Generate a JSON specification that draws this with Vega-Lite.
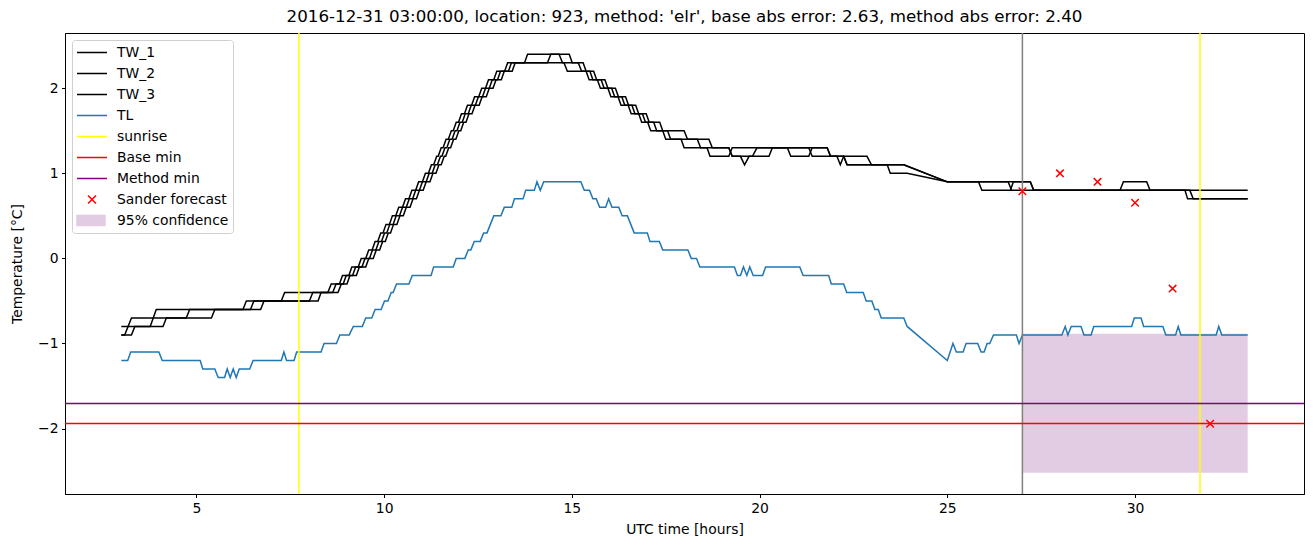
{
  "$schema": "https://vega.github.io/schema/vega-lite/v6.json",
  "width": 1239,
  "height": 461,
  "autosize": {"type": "none"},
  "padding": {"left": 65, "top": 33, "right": 9, "bottom": 53},
  "background": "white",
  "title": {"text": "2016-12-31 03:00:00, location: 923, method: 'elr', base abs error: 2.63, method abs error: 2.40", "fontSize": 16.7, "fontWeight": "normal", "font": "DejaVu Sans", "color": "black", "offset": 7, "anchor": "middle"},
  "config": {
    "view": {"stroke": "black", "strokeWidth": 1},
    "font": "DejaVu Sans",
    "axis": {"grid": false, "tickSize": 3.5, "labelPadding": 3.5, "tickColor": "black", "domainColor": "black", "labelColor": "black", "titleColor": "black", "labelFontSize": 13.9, "titleFontSize": 13.9, "titleFontWeight": "normal", "labelFont": "DejaVu Sans", "titleFont": "DejaVu Sans", "tickWidth": 1, "domainWidth": 1},
    "axisX": {"titlePadding": 8},
    "axisY": {"titlePadding": 13}
  },
  "datasets": {
    "lines": [
      {"series":"TW_1","t":3.0,"v":-0.9},{"series":"TW_1","t":3.09,"v":-0.9},{"series":"TW_1","t":3.18,"v":-0.8},{"series":"TW_1","t":3.77,"v":-0.8},{"series":"TW_1","t":3.85,"v":-0.7},{"series":"TW_1","t":4.73,"v":-0.7},{"series":"TW_1","t":4.82,"v":-0.6},{"series":"TW_1","t":6.24,"v":-0.6},{"series":"TW_1","t":6.33,"v":-0.5},{"series":"TW_1","t":7.26,"v":-0.5},{"series":"TW_1","t":7.35,"v":-0.4},{"series":"TW_1","t":8.50,"v":-0.4},{"series":"TW_1","t":8.59,"v":-0.3},
      {"series":"TW_1","t":8.81,"v":-0.3},{"series":"TW_1","t":8.89,"v":-0.2},{"series":"TW_1","t":9.06,"v":-0.2},{"series":"TW_1","t":9.14,"v":-0.1},{"series":"TW_1","t":9.31,"v":-0.1},{"series":"TW_1","t":9.39,"v":0.0},{"series":"TW_1","t":9.51,"v":0.0},{"series":"TW_1","t":9.59,"v":0.1},{"series":"TW_1","t":9.68,"v":0.1},{"series":"TW_1","t":9.76,"v":0.2},{"series":"TW_1","t":9.83,"v":0.2},{"series":"TW_1","t":9.91,"v":0.3},{"series":"TW_1","t":9.97,"v":0.3},{"series":"TW_1","t":10.05,"v":0.4},{"series":"TW_1","t":10.14,"v":0.4},{"series":"TW_1","t":10.22,"v":0.5},{"series":"TW_1","t":10.31,"v":0.5},{"series":"TW_1","t":10.39,"v":0.6},{"series":"TW_1","t":10.49,"v":0.6},{"series":"TW_1","t":10.57,"v":0.7},{"series":"TW_1","t":10.66,"v":0.7},{"series":"TW_1","t":10.74,"v":0.8},{"series":"TW_1","t":10.84,"v":0.8},{"series":"TW_1","t":10.92,"v":0.9},{"series":"TW_1","t":11.02,"v":0.9},{"series":"TW_1","t":11.10,"v":1.0},{"series":"TW_1","t":11.18,"v":1.0},{"series":"TW_1","t":11.26,"v":1.1},{"series":"TW_1","t":11.32,"v":1.1},{"series":"TW_1","t":11.40,"v":1.2},{"series":"TW_1","t":11.44,"v":1.2},{"series":"TW_1","t":11.52,"v":1.3},{"series":"TW_1","t":11.57,"v":1.3},{"series":"TW_1","t":11.65,"v":1.4},{"series":"TW_1","t":11.71,"v":1.4},{"series":"TW_1","t":11.79,"v":1.5},{"series":"TW_1","t":11.84,"v":1.5},{"series":"TW_1","t":11.92,"v":1.6},{"series":"TW_1","t":11.98,"v":1.6},{"series":"TW_1","t":12.06,"v":1.7},{"series":"TW_1","t":12.14,"v":1.7},{"series":"TW_1","t":12.22,"v":1.8},{"series":"TW_1","t":12.33,"v":1.8},{"series":"TW_1","t":12.41,"v":1.9},{"series":"TW_1","t":12.52,"v":1.9},{"series":"TW_1","t":12.60,"v":2.0},{"series":"TW_1","t":12.70,"v":2.0},{"series":"TW_1","t":12.78,"v":2.1},{"series":"TW_1","t":12.92,"v":2.1},{"series":"TW_1","t":13.00,"v":2.2},{"series":"TW_1","t":13.21,"v":2.2},{"series":"TW_1","t":13.29,"v":2.3},{"series":"TW_1","t":13.74,"v":2.3},{"series":"TW_1","t":13.82,"v":2.4},{"series":"TW_1","t":14.93,"v":2.4},{"series":"TW_1","t":15.01,"v":2.3},{"series":"TW_1","t":15.17,"v":2.3},{"series":"TW_1","t":15.26,"v":2.2},{"series":"TW_1","t":15.38,"v":2.2},{"series":"TW_1","t":15.46,"v":2.1},{"series":"TW_1","t":15.68,"v":2.1},{"series":"TW_1","t":15.76,"v":2.0},{"series":"TW_1","t":15.96,"v":2.0},{"series":"TW_1","t":16.04,"v":1.9},{"series":"TW_1","t":16.23,"v":1.9},{"series":"TW_1","t":16.31,"v":1.8},{"series":"TW_1","t":16.50,"v":1.8},{"series":"TW_1","t":16.58,"v":1.7},{"series":"TW_1","t":16.78,"v":1.7},{"series":"TW_1","t":16.86,"v":1.6},{"series":"TW_1","t":17.02,"v":1.6},{"series":"TW_1","t":17.10,"v":1.5},{"series":"TW_1","t":17.42,"v":1.5},{"series":"TW_1","t":17.50,"v":1.4},{"series":"TW_1","t":17.91,"v":1.4},{"series":"TW_1","t":17.99,"v":1.3},{"series":"TW_1","t":18.60,"v":1.3},{"series":"TW_1","t":18.68,"v":1.2},{"series":"TW_1","t":19.18,"v":1.2},{"series":"TW_1","t":19.27,"v":1.3},{"series":"TW_1","t":20.74,"v":1.3},{"series":"TW_1","t":20.83,"v":1.2},{"series":"TW_1","t":21.31,"v":1.2},{"series":"TW_1","t":21.40,"v":1.3},{"series":"TW_1","t":21.80,"v":1.3},{"series":"TW_1","t":21.89,"v":1.2},{"series":"TW_1","t":22.24,"v":1.2},{"series":"TW_1","t":22.33,"v":1.1},{"series":"TW_1","t":23.84,"v":1.1},{"series":"TW_1","t":25.0,"v":0.9},{"series":"TW_1","t":25.83,"v":0.9},{"series":"TW_1","t":25.92,"v":0.8},{"series":"TW_1","t":26.68,"v":0.8},{"series":"TW_1","t":26.76,"v":0.9},{"series":"TW_1","t":27.21,"v":0.9},{"series":"TW_1","t":27.30,"v":0.8},{"series":"TW_1","t":31.33,"v":0.8},{"series":"TW_1","t":31.40,"v":0.7},{"series":"TW_1","t":33.0,"v":0.7},
      {"series":"TW_2","t":3.0,"v":-0.8},{"series":"TW_2","t":3.18,"v":-0.8},{"series":"TW_2","t":3.27,"v":-0.7},{"series":"TW_2","t":3.85,"v":-0.7},{"series":"TW_2","t":3.93,"v":-0.6},{"series":"TW_2","t":6.44,"v":-0.6},{"series":"TW_2","t":6.53,"v":-0.5},{"series":"TW_2","t":8.01,"v":-0.5},{"series":"TW_2","t":8.10,"v":-0.4},{"series":"TW_2","t":8.63,"v":-0.4},{"series":"TW_2","t":8.72,"v":-0.3},
      {"series":"TW_2","t":8.91,"v":-0.3},{"series":"TW_2","t":8.99,"v":-0.2},{"series":"TW_2","t":9.16,"v":-0.2},{"series":"TW_2","t":9.24,"v":-0.1},{"series":"TW_2","t":9.41,"v":-0.1},{"series":"TW_2","t":9.49,"v":0.0},{"series":"TW_2","t":9.61,"v":0.0},{"series":"TW_2","t":9.69,"v":0.1},{"series":"TW_2","t":9.78,"v":0.1},{"series":"TW_2","t":9.86,"v":0.2},{"series":"TW_2","t":9.93,"v":0.2},{"series":"TW_2","t":10.01,"v":0.3},{"series":"TW_2","t":10.07,"v":0.3},{"series":"TW_2","t":10.15,"v":0.4},{"series":"TW_2","t":10.24,"v":0.4},{"series":"TW_2","t":10.32,"v":0.5},{"series":"TW_2","t":10.41,"v":0.5},{"series":"TW_2","t":10.49,"v":0.6},{"series":"TW_2","t":10.59,"v":0.6},{"series":"TW_2","t":10.67,"v":0.7},{"series":"TW_2","t":10.76,"v":0.7},{"series":"TW_2","t":10.84,"v":0.8},{"series":"TW_2","t":10.94,"v":0.8},{"series":"TW_2","t":11.02,"v":0.9},{"series":"TW_2","t":11.12,"v":0.9},{"series":"TW_2","t":11.20,"v":1.0},{"series":"TW_2","t":11.28,"v":1.0},{"series":"TW_2","t":11.36,"v":1.1},{"series":"TW_2","t":11.42,"v":1.1},{"series":"TW_2","t":11.50,"v":1.2},{"series":"TW_2","t":11.54,"v":1.2},{"series":"TW_2","t":11.62,"v":1.3},{"series":"TW_2","t":11.67,"v":1.3},{"series":"TW_2","t":11.75,"v":1.4},{"series":"TW_2","t":11.81,"v":1.4},{"series":"TW_2","t":11.89,"v":1.5},{"series":"TW_2","t":11.94,"v":1.5},{"series":"TW_2","t":12.02,"v":1.6},{"series":"TW_2","t":12.08,"v":1.6},{"series":"TW_2","t":12.16,"v":1.7},{"series":"TW_2","t":12.24,"v":1.7},{"series":"TW_2","t":12.32,"v":1.8},{"series":"TW_2","t":12.43,"v":1.8},{"series":"TW_2","t":12.51,"v":1.9},{"series":"TW_2","t":12.62,"v":1.9},{"series":"TW_2","t":12.70,"v":2.0},{"series":"TW_2","t":12.80,"v":2.0},{"series":"TW_2","t":12.88,"v":2.1},{"series":"TW_2","t":13.02,"v":2.1},{"series":"TW_2","t":13.10,"v":2.2},{"series":"TW_2","t":13.31,"v":2.2},{"series":"TW_2","t":13.39,"v":2.3},{"series":"TW_2","t":14.35,"v":2.3},{"series":"TW_2","t":14.44,"v":2.4},{"series":"TW_2","t":14.66,"v":2.4},{"series":"TW_2","t":14.75,"v":2.3},{"series":"TW_2","t":15.30,"v":2.3},{"series":"TW_2","t":15.38,"v":2.2},{"series":"TW_2","t":15.58,"v":2.2},{"series":"TW_2","t":15.66,"v":2.1},{"series":"TW_2","t":15.88,"v":2.1},{"series":"TW_2","t":15.96,"v":2.0},{"series":"TW_2","t":16.16,"v":2.0},{"series":"TW_2","t":16.24,"v":1.9},{"series":"TW_2","t":16.43,"v":1.9},{"series":"TW_2","t":16.51,"v":1.8},{"series":"TW_2","t":16.70,"v":1.8},{"series":"TW_2","t":16.78,"v":1.7},{"series":"TW_2","t":16.98,"v":1.7},{"series":"TW_2","t":17.06,"v":1.6},{"series":"TW_2","t":17.34,"v":1.6},{"series":"TW_2","t":17.42,"v":1.5},{"series":"TW_2","t":17.99,"v":1.5},{"series":"TW_2","t":18.08,"v":1.4},{"series":"TW_2","t":18.65,"v":1.4},{"series":"TW_2","t":18.74,"v":1.3},{"series":"TW_2","t":19.18,"v":1.3},{"series":"TW_2","t":19.27,"v":1.2},{"series":"TW_2","t":19.49,"v":1.2},{"series":"TW_2","t":19.60,"v":1.1},{"series":"TW_2","t":19.72,"v":1.2},{"series":"TW_2","t":20.25,"v":1.2},{"series":"TW_2","t":20.34,"v":1.3},{"series":"TW_2","t":21.80,"v":1.3},{"series":"TW_2","t":21.89,"v":1.2},{"series":"TW_2","t":22.06,"v":1.2},{"series":"TW_2","t":22.15,"v":1.1},{"series":"TW_2","t":22.24,"v":1.2},{"series":"TW_2","t":22.86,"v":1.2},{"series":"TW_2","t":22.98,"v":1.1},{"series":"TW_2","t":23.84,"v":1.1},{"series":"TW_2","t":25.0,"v":0.9},{"series":"TW_2","t":26.62,"v":0.9},{"series":"TW_2","t":26.71,"v":0.8},{"series":"TW_2","t":31.46,"v":0.8},{"series":"TW_2","t":31.55,"v":0.7},{"series":"TW_2","t":33.0,"v":0.7},
      {"series":"TW_3","t":3.0,"v":-0.9},{"series":"TW_3","t":3.27,"v":-0.9},{"series":"TW_3","t":3.36,"v":-0.8},{"series":"TW_3","t":4.11,"v":-0.8},{"series":"TW_3","t":4.20,"v":-0.7},{"series":"TW_3","t":5.40,"v":-0.7},{"series":"TW_3","t":5.49,"v":-0.6},{"series":"TW_3","t":6.71,"v":-0.6},{"series":"TW_3","t":6.80,"v":-0.5},{"series":"TW_3","t":8.24,"v":-0.5},{"series":"TW_3","t":8.32,"v":-0.4},{"series":"TW_3","t":8.77,"v":-0.4},{"series":"TW_3","t":8.86,"v":-0.3},
      {"series":"TW_3","t":9.01,"v":-0.3},{"series":"TW_3","t":9.09,"v":-0.2},{"series":"TW_3","t":9.26,"v":-0.2},{"series":"TW_3","t":9.34,"v":-0.1},{"series":"TW_3","t":9.51,"v":-0.1},{"series":"TW_3","t":9.59,"v":0.0},{"series":"TW_3","t":9.71,"v":0.0},{"series":"TW_3","t":9.79,"v":0.1},{"series":"TW_3","t":9.88,"v":0.1},{"series":"TW_3","t":9.96,"v":0.2},{"series":"TW_3","t":10.03,"v":0.2},{"series":"TW_3","t":10.11,"v":0.3},{"series":"TW_3","t":10.17,"v":0.3},{"series":"TW_3","t":10.25,"v":0.4},{"series":"TW_3","t":10.34,"v":0.4},{"series":"TW_3","t":10.42,"v":0.5},{"series":"TW_3","t":10.51,"v":0.5},{"series":"TW_3","t":10.59,"v":0.6},{"series":"TW_3","t":10.69,"v":0.6},{"series":"TW_3","t":10.77,"v":0.7},{"series":"TW_3","t":10.86,"v":0.7},{"series":"TW_3","t":10.94,"v":0.8},{"series":"TW_3","t":11.04,"v":0.8},{"series":"TW_3","t":11.12,"v":0.9},{"series":"TW_3","t":11.22,"v":0.9},{"series":"TW_3","t":11.30,"v":1.0},{"series":"TW_3","t":11.38,"v":1.0},{"series":"TW_3","t":11.46,"v":1.1},{"series":"TW_3","t":11.52,"v":1.1},{"series":"TW_3","t":11.60,"v":1.2},{"series":"TW_3","t":11.64,"v":1.2},{"series":"TW_3","t":11.72,"v":1.3},{"series":"TW_3","t":11.77,"v":1.3},{"series":"TW_3","t":11.85,"v":1.4},{"series":"TW_3","t":11.91,"v":1.4},{"series":"TW_3","t":11.99,"v":1.5},{"series":"TW_3","t":12.04,"v":1.5},{"series":"TW_3","t":12.12,"v":1.6},{"series":"TW_3","t":12.18,"v":1.6},{"series":"TW_3","t":12.26,"v":1.7},{"series":"TW_3","t":12.34,"v":1.7},{"series":"TW_3","t":12.42,"v":1.8},{"series":"TW_3","t":12.53,"v":1.8},{"series":"TW_3","t":12.61,"v":1.9},{"series":"TW_3","t":12.72,"v":1.9},{"series":"TW_3","t":12.80,"v":2.0},{"series":"TW_3","t":12.90,"v":2.0},{"series":"TW_3","t":12.98,"v":2.1},{"series":"TW_3","t":13.12,"v":2.1},{"series":"TW_3","t":13.20,"v":2.2},{"series":"TW_3","t":13.41,"v":2.2},{"series":"TW_3","t":13.49,"v":2.3},{"series":"TW_3","t":14.79,"v":2.3},{"series":"TW_3","t":14.88,"v":2.2},{"series":"TW_3","t":15.48,"v":2.2},{"series":"TW_3","t":15.56,"v":2.1},{"series":"TW_3","t":15.78,"v":2.1},{"series":"TW_3","t":15.86,"v":2.0},{"series":"TW_3","t":16.06,"v":2.0},{"series":"TW_3","t":16.14,"v":1.9},{"series":"TW_3","t":16.33,"v":1.9},{"series":"TW_3","t":16.41,"v":1.8},{"series":"TW_3","t":16.60,"v":1.8},{"series":"TW_3","t":16.68,"v":1.7},{"series":"TW_3","t":16.88,"v":1.7},{"series":"TW_3","t":16.96,"v":1.6},{"series":"TW_3","t":17.18,"v":1.6},{"series":"TW_3","t":17.26,"v":1.5},{"series":"TW_3","t":17.55,"v":1.5},{"series":"TW_3","t":17.63,"v":1.4},{"series":"TW_3","t":18.34,"v":1.4},{"series":"TW_3","t":18.43,"v":1.3},{"series":"TW_3","t":19.18,"v":1.3},{"series":"TW_3","t":19.27,"v":1.2},{"series":"TW_3","t":19.81,"v":1.2},{"series":"TW_3","t":19.93,"v":1.3},{"series":"TW_3","t":21.31,"v":1.3},{"series":"TW_3","t":21.40,"v":1.2},{"series":"TW_3","t":22.24,"v":1.2},{"series":"TW_3","t":22.33,"v":1.1},{"series":"TW_3","t":23.40,"v":1.1},{"series":"TW_3","t":23.48,"v":1.0},{"series":"TW_3","t":23.93,"v":1.0},{"series":"TW_3","t":25.0,"v":0.9},{"series":"TW_3","t":27.21,"v":0.9},{"series":"TW_3","t":27.30,"v":0.8},{"series":"TW_3","t":29.60,"v":0.8},{"series":"TW_3","t":29.69,"v":0.9},{"series":"TW_3","t":30.31,"v":0.9},{"series":"TW_3","t":30.40,"v":0.8},{"series":"TW_3","t":33.0,"v":0.8},
      {"series":"TL","t":3.0,"v":-1.2},{"series":"TL","t":3.17,"v":-1.2},{"series":"TL","t":3.25,"v":-1.1},{"series":"TL","t":4.0,"v":-1.1},{"series":"TL","t":4.09,"v":-1.2},{"series":"TL","t":5.10,"v":-1.2},{"series":"TL","t":5.17,"v":-1.3},{"series":"TL","t":5.49,"v":-1.3},{"series":"TL","t":5.58,"v":-1.4},{"series":"TL","t":5.75,"v":-1.4},{"series":"TL","t":5.82,"v":-1.3},{"series":"TL","t":5.90,"v":-1.4},{"series":"TL","t":5.98,"v":-1.3},{"series":"TL","t":6.06,"v":-1.4},{"series":"TL","t":6.14,"v":-1.3},{"series":"TL","t":6.42,"v":-1.3},{"series":"TL","t":6.51,"v":-1.2},{"series":"TL","t":7.26,"v":-1.2},{"series":"TL","t":7.33,"v":-1.1},{"series":"TL","t":7.40,"v":-1.2},{"series":"TL","t":7.60,"v":-1.2},{"series":"TL","t":7.67,"v":-1.1},{"series":"TL","t":8.32,"v":-1.1},{"series":"TL","t":8.40,"v":-1.0},{"series":"TL","t":8.73,"v":-1.0},{"series":"TL","t":8.82,"v":-0.9},{"series":"TL","t":9.07,"v":-0.9},{"series":"TL","t":9.18,"v":-0.8},{"series":"TL","t":9.42,"v":-0.8},{"series":"TL","t":9.51,"v":-0.7},{"series":"TL","t":9.67,"v":-0.7},{"series":"TL","t":9.76,"v":-0.6},{"series":"TL","t":9.92,"v":-0.6},{"series":"TL","t":10.01,"v":-0.5},{"series":"TL","t":10.10,"v":-0.5},{"series":"TL","t":10.19,"v":-0.4},{"series":"TL","t":10.24,"v":-0.4},{"series":"TL","t":10.33,"v":-0.3},{"series":"TL","t":10.66,"v":-0.3},{"series":"TL","t":10.75,"v":-0.2},{"series":"TL","t":11.25,"v":-0.2},{"series":"TL","t":11.32,"v":-0.1},{"series":"TL","t":11.84,"v":-0.1},{"series":"TL","t":11.92,"v":0.0},{"series":"TL","t":12.15,"v":0.0},{"series":"TL","t":12.24,"v":0.1},{"series":"TL","t":12.31,"v":0.1},{"series":"TL","t":12.40,"v":0.2},{"series":"TL","t":12.56,"v":0.2},{"series":"TL","t":12.65,"v":0.3},{"series":"TL","t":12.74,"v":0.3},{"series":"TL","t":12.83,"v":0.4},{"series":"TL","t":12.92,"v":0.5},{"series":"TL","t":13.11,"v":0.5},{"series":"TL","t":13.20,"v":0.6},{"series":"TL","t":13.40,"v":0.6},{"series":"TL","t":13.47,"v":0.7},{"series":"TL","t":13.70,"v":0.7},{"series":"TL","t":13.77,"v":0.8},{"series":"TL","t":14.0,"v":0.8},{"series":"TL","t":14.07,"v":0.9},{"series":"TL","t":14.16,"v":0.8},{"series":"TL","t":14.25,"v":0.9},{"series":"TL","t":15.24,"v":0.9},{"series":"TL","t":15.33,"v":0.8},{"series":"TL","t":15.47,"v":0.8},{"series":"TL","t":15.56,"v":0.7},{"series":"TL","t":15.65,"v":0.7},{"series":"TL","t":15.74,"v":0.6},{"series":"TL","t":15.90,"v":0.6},{"series":"TL","t":15.98,"v":0.7},{"series":"TL","t":16.07,"v":0.6},{"series":"TL","t":16.25,"v":0.6},{"series":"TL","t":16.34,"v":0.5},{"series":"TL","t":16.48,"v":0.5},{"series":"TL","t":16.57,"v":0.4},{"series":"TL","t":16.66,"v":0.3},{"series":"TL","t":17.01,"v":0.3},{"series":"TL","t":17.08,"v":0.2},{"series":"TL","t":17.33,"v":0.2},{"series":"TL","t":17.42,"v":0.1},{"series":"TL","t":18.09,"v":0.1},{"series":"TL","t":18.18,"v":0.0},{"series":"TL","t":18.32,"v":0.0},{"series":"TL","t":18.41,"v":-0.1},{"series":"TL","t":19.33,"v":-0.1},{"series":"TL","t":19.41,"v":-0.2},{"series":"TL","t":19.49,"v":-0.2},{"series":"TL","t":19.57,"v":-0.1},{"series":"TL","t":19.66,"v":-0.2},{"series":"TL","t":19.74,"v":-0.1},{"series":"TL","t":19.83,"v":-0.2},{"series":"TL","t":20.08,"v":-0.2},{"series":"TL","t":20.16,"v":-0.1},{"series":"TL","t":21.07,"v":-0.1},{"series":"TL","t":21.16,"v":-0.2},{"series":"TL","t":21.84,"v":-0.2},{"series":"TL","t":21.91,"v":-0.3},{"series":"TL","t":22.24,"v":-0.3},{"series":"TL","t":22.32,"v":-0.4},{"series":"TL","t":22.76,"v":-0.4},{"series":"TL","t":22.84,"v":-0.5},{"series":"TL","t":22.99,"v":-0.5},{"series":"TL","t":23.07,"v":-0.6},{"series":"TL","t":23.16,"v":-0.6},{"series":"TL","t":23.24,"v":-0.7},{"series":"TL","t":23.84,"v":-0.7},{"series":"TL","t":23.93,"v":-0.8},{"series":"TL","t":25.0,"v":-1.2},{"series":"TL","t":25.15,"v":-1.0},{"series":"TL","t":25.24,"v":-1.1},{"series":"TL","t":25.42,"v":-1.1},{"series":"TL","t":25.50,"v":-1.0},{"series":"TL","t":25.81,"v":-1.0},{"series":"TL","t":25.90,"v":-1.1},{"series":"TL","t":25.98,"v":-1.1},{"series":"TL","t":26.06,"v":-1.0},{"series":"TL","t":26.13,"v":-1.0},{"series":"TL","t":26.23,"v":-0.9},{"series":"TL","t":26.84,"v":-0.9},{"series":"TL","t":26.91,"v":-1.0},{"series":"TL","t":27.0,"v":-0.9},{"series":"TL","t":28.05,"v":-0.9},{"series":"TL","t":28.14,"v":-0.8},{"series":"TL","t":28.21,"v":-0.9},{"series":"TL","t":28.30,"v":-0.8},{"series":"TL","t":28.56,"v":-0.8},{"series":"TL","t":28.64,"v":-0.9},{"series":"TL","t":28.83,"v":-0.9},{"series":"TL","t":28.90,"v":-0.8},{"series":"TL","t":29.91,"v":-0.8},{"series":"TL","t":29.98,"v":-0.7},{"series":"TL","t":30.16,"v":-0.7},{"series":"TL","t":30.23,"v":-0.8},{"series":"TL","t":30.74,"v":-0.8},{"series":"TL","t":30.82,"v":-0.9},{"series":"TL","t":31.08,"v":-0.9},{"series":"TL","t":31.15,"v":-0.8},{"series":"TL","t":31.22,"v":-0.9},{"series":"TL","t":32.16,"v":-0.9},{"series":"TL","t":32.23,"v":-0.8},{"series":"TL","t":32.31,"v":-0.9},{"series":"TL","t":33.0,"v":-0.9}
    ],
    "conf": [{"series": "95% confidence", "t": 27.0, "t2": 33.0, "v": -2.52, "v2": -0.886}],
    "now": [{"t": 27.0}],
    "sunrise": [{"series": "sunrise", "t": 7.73}, {"series": "sunrise", "t": 31.73}],
    "mins": [{"series": "Base min", "v": -1.94}, {"series": "Method min", "v": -1.706}],
    "sander": [
      {"series": "Sander forecast", "t": 27, "v": 0.79},
      {"series": "Sander forecast", "t": 28, "v": 1.0},
      {"series": "Sander forecast", "t": 29, "v": 0.9},
      {"series": "Sander forecast", "t": 30, "v": 0.655},
      {"series": "Sander forecast", "t": 31, "v": -0.355},
      {"series": "Sander forecast", "t": 32, "v": -1.945}
    ]
  },
  "layer": [
    {
      "data": {"name": "conf"},
      "mark": {"type": "rect"},
      "encoding": {
        "x": {"field": "t", "type": "quantitative", "scale": {"domain": [1.5, 34.5], "nice": false, "zero": false}, "axis": {"title": "UTC time [hours]", "values": [5, 10, 15, 20, 25, 30]}},
        "x2": {"field": "t2"},
        "y": {"field": "v", "type": "quantitative", "scale": {"domain": [-2.77, 2.65], "nice": false, "zero": false}, "axis": {"title": "Temperature [°C]", "values": [-2, -1, 0, 1, 2]}},
        "y2": {"field": "v2"},
        "color": {
          "field": "series", "type": "nominal",
          "scale": {"domain": ["TW_1", "TW_2", "TW_3", "TL", "sunrise", "Base min", "Method min", "Sander forecast", "95% confidence"], "range": ["black", "black", "black", "#1f77b4", "#ffff00", "#ff0000", "#800080", "#ff0000", "#e2cce3"]},
          "legend": {
            "orient": "none", "legendX": 7, "legendY": 7, "title": null, "padding": 4,
            "fillColor": "rgba(255,255,255,0.8)", "strokeColor": "#d0d0d0", "cornerRadius": 3,
            "labelFontSize": 13.9, "labelFont": "DejaVu Sans", "labelColor": "black",
            "symbolType": "stroke", "symbolSize": 225, "symbolStrokeWidth": 1.5,
            "rowPadding": 5, "labelOffset": 24,
            "encode": {"symbols": {"update": {
              "shape": {"signal": "datum.value === 'Sander forecast' ? 'M0.47,-0.53L1.53,0.53M0.47,0.53L1.53,-0.53' : datum.value === '95% confidence' ? 'M-1,-0.67H2.73V0.67H-1Z' : 'M-1,0H3'"},
              "size": {"value": 225},
              "fill": {"signal": "datum.value === '95% confidence' ? '#e2cce3' : 'transparent'"},
              "stroke": {"signal": "datum.value === '95% confidence' ? 'transparent' : scale('color', datum.value)"},
              "strokeWidth": {"value": 1.5},
              "opacity": {"value": 1}
            }}}
          }
        }
      }
    },
    {
      "data": {"name": "lines"},
      "mark": {"type": "line", "strokeWidth": 1.5},
      "encoding": {
        "x": {"field": "t", "type": "quantitative", "scale": {"domain": [1.5, 34.5], "nice": false, "zero": false}, "axis": {"title": "UTC time [hours]", "values": [5, 10, 15, 20, 25, 30]}},
        "y": {"field": "v", "type": "quantitative", "scale": {"domain": [-2.77, 2.65], "nice": false, "zero": false}, "axis": {"title": "Temperature [°C]", "values": [-2, -1, 0, 1, 2]}},
        "color": {"field": "series", "type": "nominal"}
      }
    },
    {
      "data": {"name": "now"},
      "mark": {"type": "rule", "color": "#808080", "strokeWidth": 1.5},
      "encoding": {
        "x": {"field": "t", "type": "quantitative", "scale": {"domain": [1.5, 34.5], "nice": false, "zero": false}, "axis": {"title": "UTC time [hours]", "values": [5, 10, 15, 20, 25, 30]}}
      }
    },
    {
      "data": {"name": "sunrise"},
      "mark": {"type": "rule", "strokeWidth": 1.5},
      "encoding": {
        "x": {"field": "t", "type": "quantitative", "scale": {"domain": [1.5, 34.5], "nice": false, "zero": false}, "axis": {"title": "UTC time [hours]", "values": [5, 10, 15, 20, 25, 30]}},
        "color": {"field": "series", "type": "nominal"}
      }
    },
    {
      "data": {"name": "mins"},
      "mark": {"type": "rule", "strokeWidth": 1.5},
      "encoding": {
        "y": {"field": "v", "type": "quantitative", "scale": {"domain": [-2.77, 2.65], "nice": false, "zero": false}, "axis": {"title": "Temperature [°C]", "values": [-2, -1, 0, 1, 2]}},
        "color": {"field": "series", "type": "nominal"}
      }
    },
    {
      "data": {"name": "sander"},
      "mark": {"type": "point", "shape": "M-1,-1L1,1M-1,1L1,-1", "filled": false, "size": 56, "strokeWidth": 1.5, "opacity": 1},
      "encoding": {
        "x": {"field": "t", "type": "quantitative", "scale": {"domain": [1.5, 34.5], "nice": false, "zero": false}, "axis": {"title": "UTC time [hours]", "values": [5, 10, 15, 20, 25, 30]}},
        "y": {"field": "v", "type": "quantitative", "scale": {"domain": [-2.77, 2.65], "nice": false, "zero": false}, "axis": {"title": "Temperature [°C]", "values": [-2, -1, 0, 1, 2]}},
        "color": {"field": "series", "type": "nominal"}
      }
    }
  ]
}
